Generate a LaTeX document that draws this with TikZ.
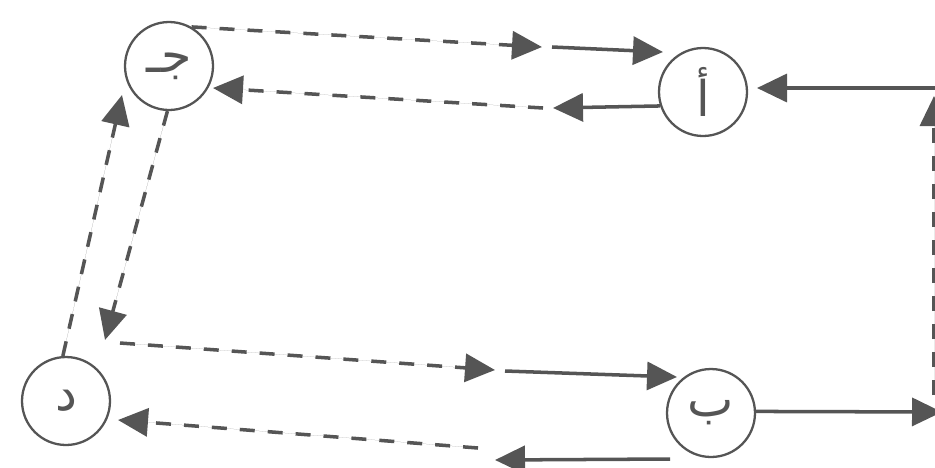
\documentclass[tikz,border=0pt]{standalone}
\usepackage{fontspec}
\newfontfamily\arabicfont[Script=Arabic]{DejaVu Sans}
\TeXXeTstate=1
\usetikzlibrary{arrows.meta}
\definecolor{inkgray}{HTML}{555555}
\tikzset{
  letter/.style={draw=inkgray, circle, line width=1.3pt, minimum size=1.76cm, inner sep=0pt, text=inkgray, font=\arabicfont\fontsize{28}{32}\selectfont},
  flowsolid/.style={-{Triangle[length=6mm, width=5.6mm]}, line width=2pt, draw=inkgray, fill=inkgray},
  flowdash/.style={flowsolid, dash pattern=on 3mm off 2.6mm}
}
\begin{document}
\begin{tikzpicture}[x=0.02cm, y=-0.02cm]
  \useasboundingbox (0,0) rectangle (935,467);
  % the four letters
  \node[letter] (c) at (169,66) {\beginR جـ\endR};
  \node[letter] (a) at (703,92) {\beginR أ\endR};
  \node[letter] (d) at (66,401) {\beginR د\endR};
  \node[letter] (b) at (711,413) {\beginR ب\endR};
  % free ends of the broken arrows
  \coordinate (ca-mid) at (542,47);
  \coordinate (ca-go) at (552,47);
  \coordinate (ca-end) at (663,52);
  \coordinate (ac-mid) at (553,108);
  \coordinate (ac-go) at (543,108);
  \coordinate (ac-end) at (213,88);
  \coordinate (cd-end) at (105,340);
  \coordinate (dc-end) at (122,95);
  \coordinate (db-go) at (120,343);
  \coordinate (db-mid) at (495,370);
  \coordinate (db-next) at (505,371);
  \coordinate (db-end) at (677,377);
  \coordinate (bd-go) at (670,459);
  \coordinate (bd-mid) at (495,460);
  \coordinate (bd-next) at (478,448);
  \coordinate (bd-end) at (118,420);
  \coordinate (be-end) at (942,412);
  \coordinate (ee-low) at (934,395);
  \coordinate (ee-top) at (934,96);
  \coordinate (ea-go) at (945,88);
  \coordinate (ea-end) at (757,88);
  % top pair
  \draw[flowdash] (c.60) -- (ca-mid);
  \draw[flowsolid] (ca-go) -- (ca-end);
  \draw[flowsolid] (a.198) -- (ac-mid);
  \draw[flowdash] (ac-go) -- (ac-end);
  % left pair
  \draw[flowdash] (c.268) -- (cd-end);
  \draw[flowdash] (d.94) -- (dc-end);
  % bottom pair
  \draw[flowdash] (db-go) -- (db-mid);
  \draw[flowsolid] (db-next) -- (db-end);
  \draw[flowsolid] (bd-go) -- (bd-mid);
  \draw[flowdash] (bd-next) -- (bd-end);
  % right side
  \draw[flowsolid] (b.2) -- (be-end);
  \draw[flowdash] (ee-low) -- (ee-top);
  \draw[flowsolid] (ea-go) -- (ea-end);
\end{tikzpicture}
\end{document}
